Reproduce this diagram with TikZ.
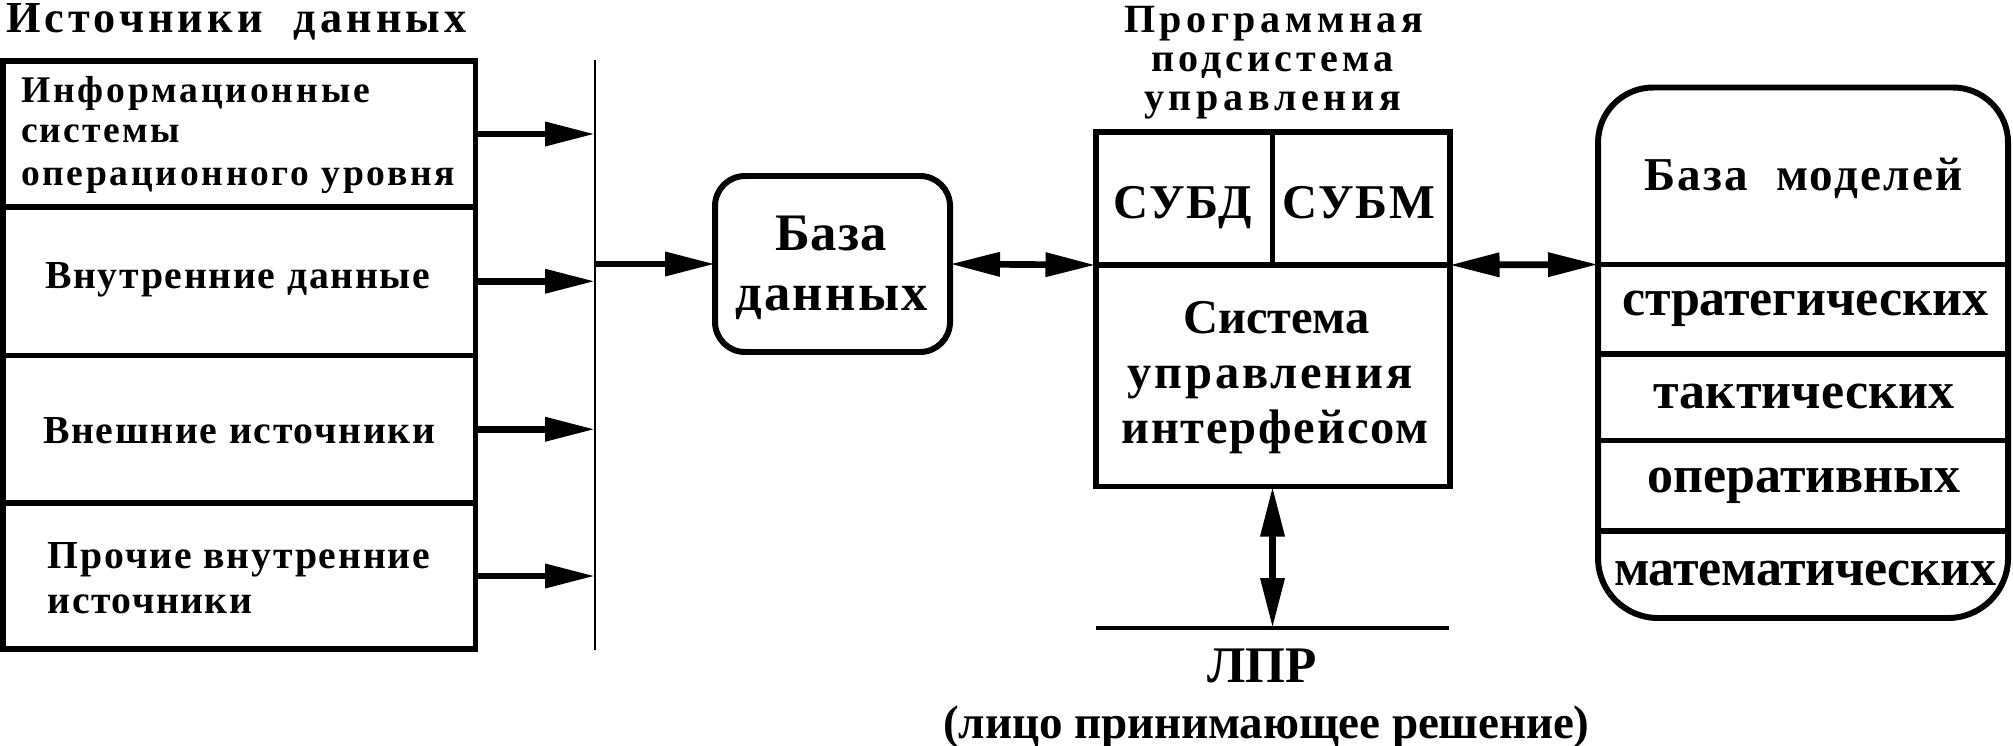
\documentclass[tikz,border=0pt]{standalone}
\usepackage{fontspec}
\setmainfont{Liberation Serif}
\usetikzlibrary{arrows.meta}
\makeatletter
\newlength\fitlen
\newcommand\fitt[3]{\settowidth\fitlen{#3}\pgfmathsetmacro\lsv{(#1*28.45276-\fitlen)/(#2*\f@size)*100}\edef\fittmp{\noexpand\addfontfeatures{LetterSpace=\lsv}}\fittmp #3}
\makeatother
\begin{document}
\begin{tikzpicture}[
 box/.style={draw, line width=1.7pt, inner sep=0pt, outer sep=0pt},
 txt/.style={inner sep=0pt, outer sep=0pt, anchor=base},
 txtl/.style={inner sep=0pt, outer sep=0pt, anchor=base west},
 sz/.style={font=\fontsize{#1pt}{#1pt}\selectfont\bfseries},
 arr/.style={line width=1.9pt, -{Triangle[length=0.5cm,width=0.23cm]}},
 darr/.style={line width=1.9pt, {Triangle[length=0.5cm,width=0.23cm]}-{Triangle[length=0.5cm,width=0.23cm]}},
 thinline/.style={line width=0.6pt},
]
\useasboundingbox (0,0) rectangle (20.13,-7.45);
% title
\node[txtl, sz=12.6] (title) at (0.06,-0.33) {\fitt{4.65}{16}{Источники~~данных}};
% data sources
\node[box, minimum width=4.725cm, minimum height=1.46cm] (s1) at (2.3925,-1.34) {};
\node[box, minimum width=4.725cm, minimum height=1.485cm] (s2) at (2.3925,-2.8125) {};
\node[box, minimum width=4.725cm, minimum height=1.475cm] (s3) at (2.3925,-4.2925) {};
\node[box, minimum width=4.725cm, minimum height=1.46cm] (s4) at (2.3925,-5.76) {};
\node[txtl, sz=10.7] (s1a) at (0.21,-1.03) {\fitt{3.49}{13}{Информационные}};
\node[txtl, sz=10.7] (s1b) at (0.21,-1.43) {\fitt{1.59}{6}{системы}};
\node[txtl, sz=10.7] (s1c) at (0.21,-1.86) {\fitt{4.37}{19}{операционного уровня}};
\node[txtl, sz=11.3] (s2a) at (0.45,-2.88) {\fitt{3.87}{16}{Внутренние данные}};
\node[txtl, sz=11.3] (s3a) at (0.43,-4.43) {\fitt{3.94}{16}{Внешние источники}};
\node[txtl, sz=11.3] (s4a) at (0.48,-5.68) {\fitt{3.84}{16}{Прочие внутренние}};
\node[txtl, sz=11.3] (s4b) at (0.48,-6.13) {\fitt{2.04}{8}{источники}};
% bus
\coordinate (busT) at (5.95,-0.60);
\coordinate (busB) at (5.95,-6.50);
\draw[thinline] (busT) -- (busB);
\foreach \s in {s1,s2,s3,s4} \draw[arr] (\s.east) -- (\s.east -| busT);
% database
\node[box, rounded corners=0.3cm, minimum width=2.35cm, minimum height=1.76cm] (db) at (8.325,-2.64) {};
\node[txt, sz=15] (dba) at (8.31,-2.50) {\fitt{1.12}{3}{База}};
\node[txt, sz=15] (dbb) at (8.315,-3.10) {\fitt{1.93}{5}{данных}};
\coordinate (busM) at (5.95,-2.64);
\draw[arr] (busM) -- (db.west);
% program subsystem
\node[txt, sz=11.4] (pt1) at (12.735,-0.33) {\fitt{2.99}{10}{Программная}};
\node[txt, sz=11.4] (pt2) at (12.725,-0.72) {\fitt{2.42}{9}{подсистема}};
\node[txt, sz=11.4] (pt3) at (12.725,-1.10) {\fitt{2.57}{9}{управления}};
\node[box, minimum width=3.54cm, minimum height=1.33cm] (top) at (12.725,-1.985) {};
\draw[line width=1.4pt] (top.north) -- (top.south);
\node[box, minimum width=3.54cm, minimum height=2.215cm] (sui) at (12.725,-3.7575) {};
\node[txt, sz=13.8] (subd) at (11.825,-2.18) {\fitt{1.39}{3}{СУБД}};
\node[txt, sz=13.8] (subm) at (13.585,-2.18) {\fitt{1.53}{3}{СУБМ}};
\node[txt, sz=13.8] (sui1) at (12.765,-3.33) {\fitt{1.86}{6}{Система}};
\node[txt, sz=13.8] (sui2) at (12.70,-3.88) {\fitt{2.85}{9}{управления}};
\node[txt, sz=13.8] (sui3) at (12.75,-4.43) {\fitt{3.07}{10}{интерфейсом}};
% model base
\draw[line width=1.7pt] (15.98,-3.0) [rounded corners=0.55cm] -- (15.98,-0.875) -- (20.08,-0.875) -- (20.08,-3.0) [rounded corners=0.6cm] -- (20.08,-6.18) -- (15.98,-6.18) -- cycle;
\foreach \yy in {2.645,3.537,4.405,5.31} \draw[line width=1.7pt] (15.98,-\yy) -- (20.08,-\yy);
\node[txt, sz=13.4] (m0) at (18.035,-1.90) {\fitt{3.20}{12}{База~~моделей}};
\node[txt, sz=14.8] (m1) at (18.05,-3.15) {\fitt{3.66}{13}{стратегических}};
\node[txt, sz=14.8] (m2) at (18.04,-4.08) {\fitt{3.01}{10}{тактических}};
\node[txt, sz=14.8] (m3) at (18.04,-4.92) {\fitt{3.13}{10}{оперативных}};
\node[txt, sz=14.8] (m4) at (18.05,-5.85) {\fitt{3.82}{13}{математических}};
% connectors
\coordinate (mbw) at (15.98,-2.645);
\draw[darr] (db.east) -- (sui.north west);
\draw[darr] (sui.north east) -- (mbw);
% decision maker
\coordinate (lprL) at (10.96,-6.28);
\coordinate (lprR) at (14.49,-6.28);
\draw[line width=0.9pt] (lprL) -- (lprR);
\draw[darr] (sui.south) -- (sui.south |- lprL);
\node[txt, sz=14.6] (lpr) at (12.62,-6.82) {\fitt{1.10}{2}{ЛПР}};
\node[txt, sz=13.4] (lprt) at (12.665,-7.38) {\fitt{6.46}{25}{(лицо принимающее решение)}};
\end{tikzpicture}
\end{document}
